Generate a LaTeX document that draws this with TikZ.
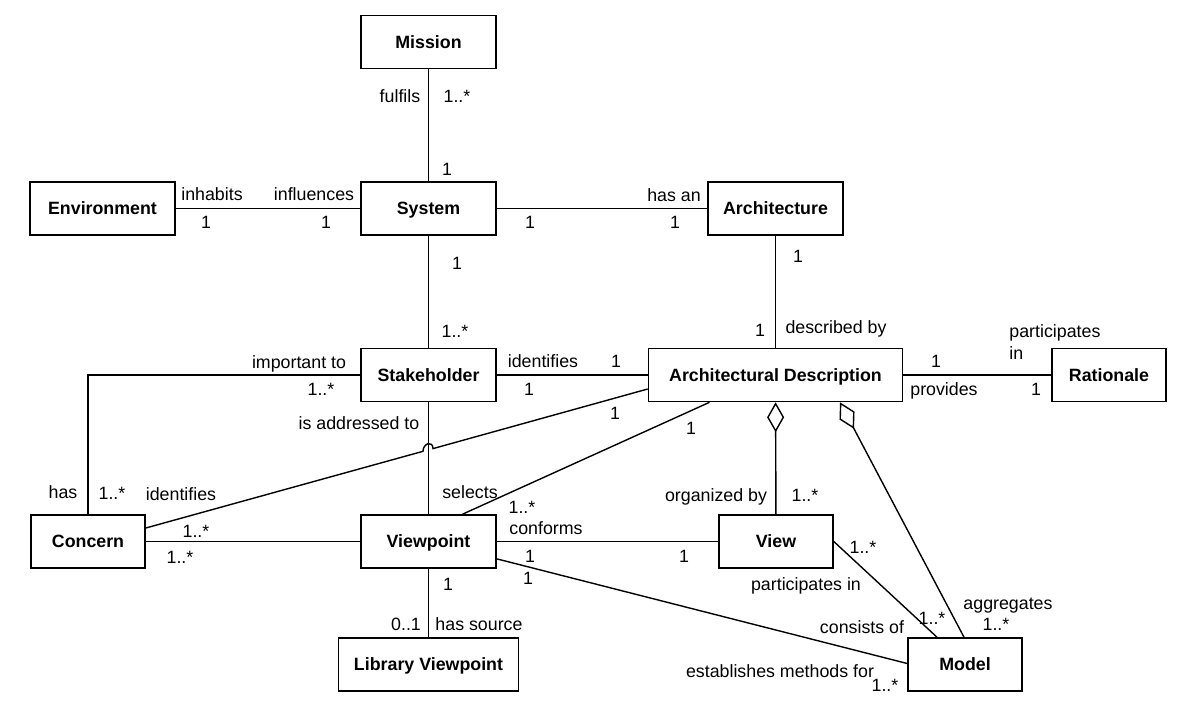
\documentclass[tikz,border=0pt]{standalone}
\usepackage{fontspec}
\setmainfont{Liberation Sans}
\usetikzlibrary{arrows.meta,calc}

\tikzset{
  box/.style={draw, line width=0.8pt, font=\fontsize{8.9}{10.7}\selectfont\bfseries, inner sep=0pt,
    minimum height=26.5pt, text height=6.4pt, text depth=0pt},
  lbl/.style={font=\fontsize{8.9}{10.7}\selectfont, inner sep=0pt, text height=6.4pt, text depth=0pt},
  link/.style={line width=0.7pt},
  agg/.style={link, {Diamond[open, length=15pt, width=8.5pt]}-}
}

\begin{document}
\begin{tikzpicture}[x=0.5pt, y=-0.5pt]
  \useasboundingbox (0,0) rectangle (1188,706);
  \node[box, minimum width=67.5pt] (mission) at (428.5,42) {Mission};
  \node[box, minimum width=72.5pt] (environment) at (102.5,208.5) {Environment};
  \node[box, minimum width=67.5pt] (system) at (428.5,208.5) {System};
  \node[box, minimum width=67.5pt] (architecture) at (775.5,208.5) {Architecture};
  \node[box, minimum width=67.5pt] (stakeholder) at (428.5,375) {Stakeholder};
  \node[box, minimum width=127pt] (archdesc) at (775.5,375) {Architectural Description};
  \node[box, minimum width=57pt] (rationale) at (1109,375) {Rationale};
  \node[box, minimum width=57pt] (concern) at (88,541.5) {Concern};
  \node[box, minimum width=67.5pt] (viewpoint) at (428.5,541.5) {Viewpoint};
  \node[box, minimum width=57pt] (view) at (776,541.5) {View};
  \node[box, minimum width=90pt] (libvp) at (428.5,664.5) {Library Viewpoint};
  \node[box, minimum width=57pt] (model) at (965,664.5) {Model};

  \coordinate (hopA) at (423,451.3);
  \coordinate (hopB) at (433,448.6);

  \path[link]
    (mission) edge (system)
    (environment) edge (system)
    (system) edge (architecture)
      edge (stakeholder)
    (architecture) edge (archdesc)
    (stakeholder) edge (archdesc)
      edge (viewpoint)
    (archdesc) edge (rationale)
      edge[agg] (view)
    ($(archdesc.south)+(-66,0)$) edge ($(viewpoint.north)+(34,0)$)
    (viewpoint) edge (view)
      edge (libvp)
      edge ($(model.west)+(0,-1)$)
    (concern) edge (viewpoint)
    (view.east) edge ($(model.north)+(-28,0)$)
    ($(archdesc.south)+(64.5,0)$) edge[agg] ($(model.north)+(-1,0)$);
  \draw[link] (stakeholder.west) -| (concern.north);
  \draw[link] ($(concern.east)+(0,-13.5)$) -- (hopA)
    .. controls (423,443) and (433,440.3) .. (hopB) -- ($(archdesc.west)+(0,14)$);

  \node[lbl] (fulfilsL) at (400,96) {fulfils};
  \node[lbl] (missionM) at (457,96) {1..*};
  \node[lbl] (systemM1) at (447,169) {1};
  \node[lbl] (inhabitsL) at (212,194) {inhabits};
  \node[lbl] (environmentM) at (206,222) {1};
  \node[lbl] (influencesL) at (314,194) {influences};
  \node[lbl] (systemM2) at (326,222) {1};
  \node[lbl] (systemM3) at (530,222) {1};
  \node[lbl] (hasanL) at (674,195) {has an};
  \node[lbl] (architectureM1) at (675,222) {1};
  \node[lbl] (systemM4) at (457,263) {1};
  \node[lbl] (stakeholderM1) at (455,331) {1..*};
  \node[lbl] (architectureM2) at (798,256) {1};
  \node[lbl] (archdescM1) at (760,330) {1};
  \node[lbl] (describedL) at (836,327) {described by};
  \node[lbl] (importantL) at (299,362) {important to};
  \node[lbl] (stakeholderM2) at (321,389) {1..*};
  \node[lbl] (identifiesL1) at (543,361) {identifies};
  \node[lbl] (archdescM2) at (616,361) {1};
  \node[lbl] (stakeholderM3) at (529,389) {1};
  \node[lbl] (archdescM3) at (936,361) {1};
  \node[lbl] (providesL) at (944,389) {provides};
  \node[lbl, align=left, anchor=west, text height=] (participatesL1) at (1009,342) {participates\\in};
  \node[lbl] (rationaleM) at (1036,389) {1};
  \node[lbl] (hasL) at (63,492) {has};
  \node[lbl] (concernM1) at (112,493) {1..*};
  \node[lbl] (identifiesL2) at (181,494) {identifies};
  \node[lbl] (archdescM4) at (615,413) {1};
  \node[lbl] (addressedL) at (359,423) {is addressed to};
  \node[lbl] (selectsL) at (470,492) {selects};
  \node[lbl] (archdescM5) at (691,428) {1};
  \node[lbl] (viewpointM1) at (522,507) {1..*};
  \node[lbl] (organizedL) at (716,495) {organized by};
  \node[lbl] (viewM1) at (805,495) {1..*};
  \node[lbl] (concernM2) at (196,531) {1..*};
  \node[lbl] (concernM3) at (180,557) {1..*};
  \node[lbl] (conformsL) at (546,528) {conforms};
  \node[lbl] (viewpointM2) at (530,556) {1};
  \node[lbl] (viewM2) at (684,556) {1};
  \node[lbl] (viewpointM3) at (528,578) {1};
  \node[lbl] (viewM3) at (863,547) {1..*};
  \node[lbl] (participatesL2) at (806,584) {participates in};
  \node[lbl] (aggregatesL) at (1008,603) {aggregates};
  \node[lbl] (modelM1) at (996,624) {1..*};
  \node[lbl] (modelM2) at (932,618) {1..*};
  \node[lbl] (consistsL) at (862,627) {consists of};
  \node[lbl] (establishesL) at (780,671) {establishes methods for};
  \node[lbl] (modelM3) at (885,685) {1..*};
  \node[lbl] (viewpointM4) at (448,584) {1};
  \node[lbl] (libvpM) at (406,624) {0..1};
  \node[lbl] (hassourceL) at (479,624) {has source};
\end{tikzpicture}
\end{document}
